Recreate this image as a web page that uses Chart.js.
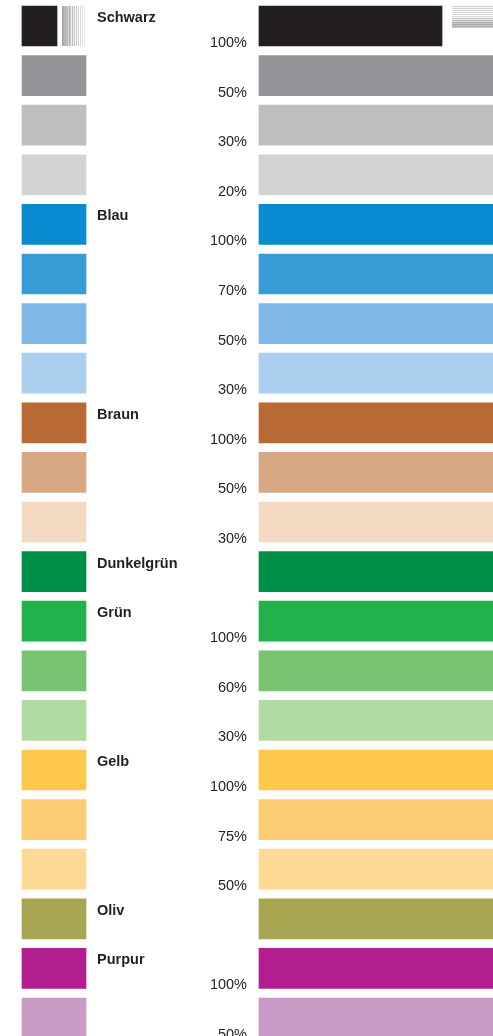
<!DOCTYPE html>
<html lang="de">
<head>
    <meta charset="UTF-8">
    <title>Farbpalette</title>
    <script src="https://cdn.jsdelivr.net/npm/chart.js"></script>
    <style>
        html, body {
            margin: 0;
            padding: 0;
            background: #ffffff;
            overflow: hidden;
        }
        #chart-box {
            width: 493px;
            height: 1036px;
        }
    </style>
</head>
<body>
    <div id="chart-box">
        <canvas id="palette-chart"></canvas>
    </div>
    <script>
        // Data: one entry per row (top to bottom)
        const names = ['Schwarz', '', '', '', 'Blau', '', '', '', 'Braun', '', '',
            'Dunkelgrün', 'Grün', '', '', 'Gelb', '', '', 'Oliv', 'Purpur', ''];
        const percents = ['100%', '50%', '30%', '20%', '100%', '70%', '50%', '30%',
            '100%', '50%', '30%', '', '100%', '60%', '30%', '100%', '75%', '50%', '', '100%', '50%'];
        const colors = ['#231f20', '#939598', '#bcbec0', '#d1d3d4',
            '#0a8bd0', '#389bd6', '#7fb8e4', '#abcfee',
            '#b86934', '#d8a885', '#f3d9c1',
            '#008f47', '#22b14c', '#77c36f', '#b1dba3',
            '#ffc74c', '#fdcd76', '#ffda96',
            '#a8a553', '#b21e8e', '#ca9bc6'];

        // Layout (pixels along the x scale, which spans the page width)
        const PAGE_W = 493;
        const swatch = [22, 86];
        const bar = [259, 493];
        const firstSwatchEnd = 57;   // black swatch leaves room for the grey stripes
        const firstBarEnd = 442;
        const rowPitch = 49.6;
        const firstCenter = 26;

        // grey shades of the little screen samples next to "Schwarz"
        const vStripes = [160, 175, 185, 180, 190, 185, 222, 175, 205, 238, 188, 242,
            198, 245, 205, 250, 208, 255, 215, 255, 220, 255, 225, 255];
        const hStripes = [205, 250, 210, 250, 212, 250, 215, 250, 218, 250, 220, 248,
            195, 235, 185, 220, 175, 200, 170, 195, 175, 205];

        const rows = names.map((_, i) => i);
        const leftData = rows.map(i => ({ x: [swatch[0], i === 0 ? firstSwatchEnd : swatch[1]], y: i }));
        const rightData = rows.map(i => ({ x: [bar[0], i === 0 ? firstBarEnd : bar[1]], y: i }));

        const textColor = '#231f20';
        const fontFamily = '"Liberation Sans", Arial, Helvetica, sans-serif';

        const labelPlugin = {
            id: 'swatchLabels',
            afterDatasetsDraw(chart) {
                const ctx = chart.ctx;
                const left = chart.getDatasetMeta(0).data;
                const right = chart.getDatasetMeta(1).data;
                ctx.save();

                // screen stripes beside the black swatch
                const s0 = left[0];
                const top0 = s0.y - s0.height / 2;
                const sx = s0.x + 5;
                vStripes.forEach((shade, k) => {
                    ctx.fillStyle = `rgb(${shade},${shade},${shade})`;
                    ctx.fillRect(sx + k, top0, 1, s0.height);
                });

                // screen stripes beside the black bar
                const b0 = right[0];
                const hx = b0.x + 10;
                const btop = b0.y - b0.height / 2;
                hStripes.forEach((shade, k) => {
                    ctx.fillStyle = `rgb(${shade},${shade},${shade})`;
                    ctx.fillRect(hx, btop + k, PAGE_W - hx, 1);
                });

                ctx.fillStyle = textColor;
                ctx.textBaseline = 'alphabetic';
                left.forEach((el, i) => {
                    const top = el.y - el.height / 2;
                    const bottom = el.y + el.height / 2;
                    if (names[i]) {
                        ctx.font = `bold 14.5px ${fontFamily}`;
                        ctx.textAlign = 'left';
                        ctx.fillText(names[i], 97, top + 16);
                    }
                    if (percents[i]) {
                        ctx.font = `14.5px ${fontFamily}`;
                        ctx.textAlign = 'right';
                        ctx.fillText(percents[i], 247, bottom + 1);
                    }
                });
                ctx.restore();
            }
        };

        const yMin = -firstCenter / rowPitch;
        const yMax = yMin + 1036 / rowPitch;

        new Chart(document.getElementById('palette-chart').getContext('2d'), {
            type: 'bar',
            data: {
                datasets: [
                    {
                        label: 'Muster',
                        data: leftData,
                        backgroundColor: colors,
                        borderWidth: 0,
                        borderSkipped: false,
                        barThickness: 40
                    },
                    {
                        label: 'Balken',
                        data: rightData,
                        backgroundColor: colors,
                        borderWidth: 0,
                        borderSkipped: false,
                        barThickness: 40
                    }
                ]
            },
            options: {
                indexAxis: 'y',
                responsive: true,
                maintainAspectRatio: false,
                animation: false,
                grouped: false,
                layout: { padding: 0 },
                plugins: {
                    legend: { display: false },
                    tooltip: { enabled: false },
                    title: { display: false }
                },
                scales: {
                    x: {
                        type: 'linear',
                        min: 0,
                        max: PAGE_W,
                        offset: false,
                        grace: 0,
                        display: false
                    },
                    y: {
                        type: 'linear',
                        reverse: true,
                        min: yMin,
                        max: yMax,
                        offset: false,
                        grace: 0,
                        display: false
                    }
                }
            },
            plugins: [labelPlugin]
        });
    </script>
</body>
</html>
